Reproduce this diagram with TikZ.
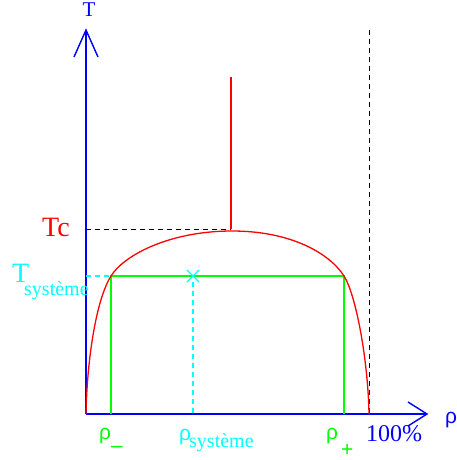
\documentclass[tikz,border=0pt]{standalone}
\usepackage{fontspec}
\usetikzlibrary{calc}
\setmainfont{Liberation Serif}
\newfontfamily\rhofont{Liberation Sans}
\definecolor{cyn}{RGB}{0,255,255}
\definecolor{grn}{RGB}{0,255,0}
\definecolor{blu}{RGB}{0,0,255}
\definecolor{rd}{RGB}{255,0,0}
\begin{document}
\begin{tikzpicture}[x=1pt,y=-1pt,
  axis/.style={blu,line width=1.4pt},
  dsh/.style={line width=1pt,dash pattern=on 5pt off 4pt},
  lbl/.style={inner sep=0pt,anchor=base west},
  big/.style={font=\fontsize{28}{30}\selectfont},
  sub/.style={font=\fontsize{20}{22}\selectfont},
  rho/.style={font=\rhofont\fontsize{21}{23}\selectfont}]
\useasboundingbox (0,0) rectangle (457,460);
% axes
\coordinate (O) at (86,414);
\coordinate (ytip) at (86,30);
\coordinate (xtip) at (427,414);
\draw[axis] (O) -- (ytip);
\draw[axis] (74,57) -- (ytip) -- (98,57);
\draw[axis] (O) -- (xtip);
\draw[axis] (408,402) -- (xtip) -- (408,426);
% 100% dashed
\draw[black,dsh] (369,30) -- (369,414);
% Tc dashed
\coordinate (tc) at (231,229);
\draw[black,dsh] (86,229) -- (tc);
\draw[rd,line width=1.4pt] (tc) -- (231,77);
% green rectangle
\coordinate (a) at (111,276);
\coordinate (b) at (344,276);
\draw[grn,line width=1.3pt] (111,414) -- (a) -- (b) -- (344,414);
% cyan
\draw[cyn,dsh,line width=1.3pt] (86,276) -- (a);
\coordinate (x) at (193,276);
\draw[cyn,line width=1.2pt] ($(x)+(-6,-6)$) -- ($(x)+(6,6)$) ($(x)+(-6,6)$) -- ($(x)+(6,-6)$);
\draw[cyn,dsh,line width=1.3pt] (193,282) -- (193,414);
% red curve
\draw[rd,line width=1.3pt] (86,414) .. controls (87,360) and (96,300) .. (a)
  .. controls (124,255) and (170,231) .. (232,231)
  .. controls (292,231) and (330,254) .. (b)
  .. controls (356,295) and (368,360) .. (369,414);
% labels
\node[lbl,blu,font=\fontsize{21}{23}\selectfont,anchor=base] (T) at (89,17) {T};
\node[lbl,rd,big] (Tc) at (42,236) {Tc};
\node[lbl,cyn,big] (Ts) at (12,282) {T};
\node[lbl,cyn,sub] (Tss) at (24,295) {système};
\node[lbl,blu,rho] (rhoax) at (445,423) {ρ};
\node[lbl,grn,rho] (rm) at (99,439) {ρ};
\node[lbl,grn,rho] (rmsub) at (111,452) {–};
\node[lbl,cyn,rho] (rs) at (179,440) {ρ};
\node[lbl,cyn,sub] (rssub) at (189,447) {système};
\node[lbl,grn,rho] (rp) at (326,439) {ρ};
\node[lbl,grn,rho] (rpsub) at (341,456) {+};
\node[lbl,blu,font=\fontsize{24}{26}\selectfont] (pc) at (366,441) {100\%};
\end{tikzpicture}
\end{document}
